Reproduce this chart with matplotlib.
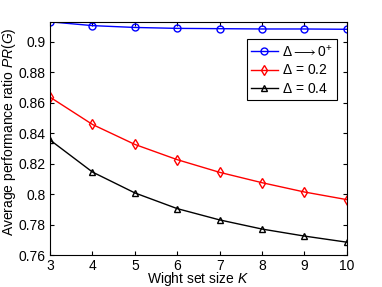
import matplotlib
matplotlib.use("Agg")
import matplotlib.pyplot as plt

K = [3, 4, 5, 6, 7, 8, 9, 10]
pr_zero = [0.913, 0.9105, 0.9093, 0.9087, 0.9085, 0.9083, 0.9083, 0.9081]
pr_02 = [0.8636, 0.8457, 0.8326, 0.8226, 0.8143, 0.8075, 0.8014, 0.7964]
pr_04 = [0.8355, 0.8145, 0.8008, 0.7905, 0.7831, 0.7771, 0.7725, 0.7685]

plt.rcParams['font.family'] = ['Liberation Sans', 'DejaVu Sans']
plt.rcParams['mathtext.fontset'] = 'custom'
plt.rcParams['mathtext.rm'] = 'Liberation Sans'
plt.rcParams['mathtext.it'] = 'Liberation Sans:italic'

fig = plt.figure(figsize=(3.82, 2.87), dpi=100)
ax = fig.add_axes([0.131, 0.111, 0.777, 0.813])

ax.plot(K, pr_zero, color='blue', marker='o', markersize=5, markerfacecolor='none', linewidth=1, label=r'$\Delta \longrightarrow 0^{+}$')
ax.plot(K, pr_02, color='red', marker='d', markersize=5, markerfacecolor='none', linewidth=1, label=r'$\Delta$ = 0.2')
ax.plot(K, pr_04, color='black', marker='^', markersize=5, markerfacecolor='none', linewidth=1, label=r'$\Delta$ = 0.4')

ax.set_xlim(3, 10)
ax.set_ylim(0.76, 0.913)
ax.set_xticks(K)
ax.set_yticks([0.76, 0.78, 0.8, 0.82, 0.84, 0.86, 0.88, 0.9])
ax.set_yticklabels(['0.76', '0.78', '0.8', '0.82', '0.84', '0.86', '0.88', '0.9'])
ax.tick_params(direction='in', labelsize=10, length=3, top=True, right=True, pad=3)

ax.set_xlabel(r'Wight set size $K$', fontsize=10)
ax.set_ylabel(r'Average performance ratio $PR(G)$', fontsize=10)
ax.xaxis.set_label_coords(0.5, -0.064)
ax.yaxis.set_label_coords(-0.108, 0.528)

leg = ax.legend(loc='upper right', bbox_to_anchor=(0.966, 0.926), borderaxespad=0, fontsize=10,
                fancybox=False, framealpha=1, edgecolor='black', handlelength=1.9,
                handletextpad=0.3, borderpad=0.3, labelspacing=0.3)
leg.get_frame().set_linewidth(0.8)

fig.savefig('out.png', dpi=100)
